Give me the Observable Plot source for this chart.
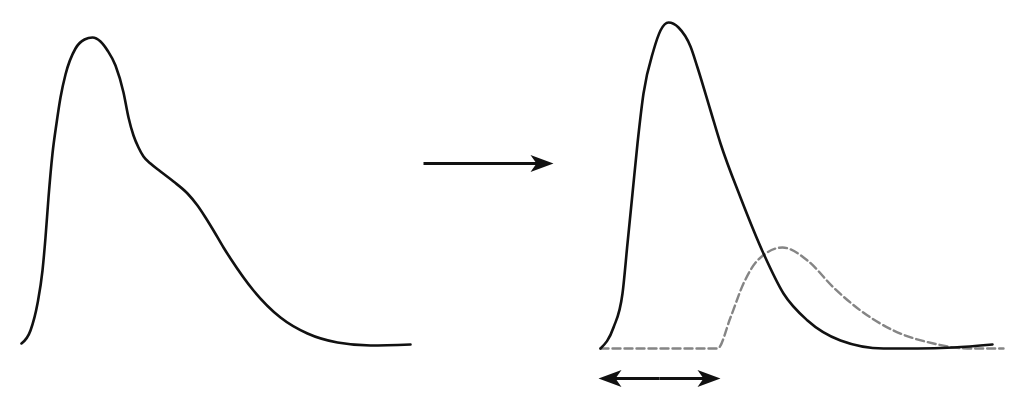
<!DOCTYPE html>
<html>
<head>
<meta charset="utf-8">
<script src="https://cdn.jsdelivr.net/npm/d3@7"></script>
<script src="https://cdn.jsdelivr.net/npm/@observablehq/plot@0.6"></script>
<style>
  html, body { margin: 0; padding: 0; background: #fff; }
  #chart svg { display: block; }
</style>
</head>
<body>
<div id="chart"></div>
<script>
// Left: original curve with shoulder (x, height)
const leftX = [21, 30, 37, 42, 45, 48, 52, 56, 60, 65, 75, 84, 92, 100, 107, 115, 123, 128, 133, 138, 143, 150, 160, 173, 187, 197, 205, 213, 223, 230, 253, 280, 307, 337, 370, 410];
const leftY = [63, 76, 103, 136, 169, 209, 253, 283, 309, 332, 358, 367, 369, 365, 356, 341, 314, 289, 271, 259, 250, 243, 235, 225, 213, 201, 189, 176, 159, 148, 116, 89, 73, 64, 61, 62];

// Right: main curve (solid)
const rightX = [600, 613, 622, 627, 632, 637, 643, 653, 660, 668, 678, 690, 697, 710, 720, 740, 763, 783, 807, 840, 883, 917, 953, 992];
const rightY = [58, 79, 113, 163, 213, 263, 313, 356, 376, 384, 379, 360, 339, 296, 263, 209, 153, 113, 86, 66, 58, 58, 59, 62];

// Right: shifted curve (dashed)
const dashX = [600, 660, 717, 730, 743, 757, 782, 807, 833, 860, 893, 933, 967, 1003];
const dashY = [58, 58, 58, 89, 123, 146, 159, 146, 119, 96, 76, 63, 58, 58];

// Arrows: [from, to, level]
const arrowFrom = [423, 659, 659];
const arrowTo = [553, 598, 720];
const arrowLevel = [243, 28, 28];

const toRows = (xs, ys) => xs.map((x, i) => ({x, y: ys[i]}));
const leftData = toRows(leftX, leftY);
const rightData = toRows(rightX, rightY);
const dashData = toRows(dashX, dashY);
const arrows = arrowFrom.map((f, i) => ({x1: f, x2: arrowTo[i], y: arrowLevel[i], rot: arrowTo[i] > f ? 0 : 180}));

// barbed filled arrowhead, tip at origin, pointing +x
const arrowHead = {
  draw(ctx, size) {
    const L = 23, W = 8.5, N = 6;
    ctx.moveTo(0, 0);
    ctx.lineTo(-L, -W);
    ctx.lineTo(-L + N, 0);
    ctx.lineTo(-L, W);
    ctx.closePath();
  }
};

const chart = Plot.plot({
  width: 1024,
  height: 406,
  margin: 0,
  x: {domain: [0, 1024], axis: null},
  y: {domain: [0, 406], axis: null},
  marks: [
    Plot.line(dashData, {x: "x", y: "y", curve: "monotone-x", stroke: "#858585", strokeWidth: 2.4, strokeDasharray: "8,4"}),
    Plot.line(leftData, {x: "x", y: "y", curve: "monotone-x", stroke: "#111", strokeWidth: 2.6}),
    Plot.line(rightData, {x: "x", y: "y", curve: "monotone-x", stroke: "#111", strokeWidth: 2.6}),
    Plot.link(arrows, {x1: "x1", x2: d => d.x2 + (d.rot === 0 ? -12 : 12), y1: "y", y2: "y", stroke: "#111", strokeWidth: 2.8}),
    Plot.dot(arrows, {x: "x2", y: "y", symbol: arrowHead, rotate: "rot", fill: "#111", stroke: "none"})
  ]
});
document.getElementById("chart").append(chart);
</script>
</body>
</html>
